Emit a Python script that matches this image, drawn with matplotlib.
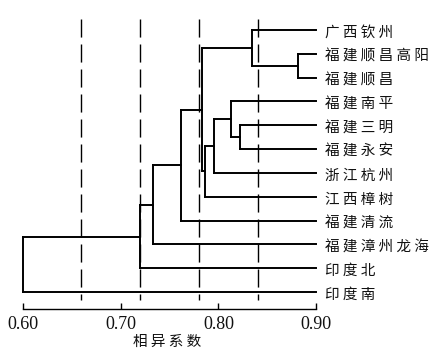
import matplotlib
matplotlib.use("Agg")
import matplotlib.pyplot as plt

# ---- data ----
leaf_labels = ["广西钦州", "福建顺昌高阳", "福建顺昌", "福建南平", "福建三明", "福建永安",
               "浙江杭州", "江西樟树", "福建清流", "福建漳州龙海", "印度北", "印度南"]
# merges: (child_a, child_b, height); new cluster ids start at len(leaf_labels)
merge_a = [1, 0, 4, 3, 15, 16, 13, 18, 19, 20, 21]
merge_b = [2, 12, 5, 14, 6, 7, 17, 8, 9, 10, 11]
merge_h = [0.881, 0.834, 0.822, 0.813, 0.795, 0.786, 0.783, 0.7615, 0.733, 0.720, 0.600]
ref_lines = [0.66, 0.72, 0.78, 0.84]
xticks = [0.60, 0.70, 0.80, 0.90]
xtick_labels = ["0.60", "0.70", "0.80", "0.90"]
xlabel = "相异系数"
leaf_level = 0.90

W, H = 438, 352
fig = plt.figure(figsize=(W / 100, H / 100), dpi=100)
fig.patch.set_facecolor("white")
ax = fig.add_axes([22.7 / W, 1 - 309 / H, 293.6 / W, (309 - 19) / H])

n = len(leaf_labels)
ypos = {i: float(i) for i in range(n)}
xpos = {i: leaf_level for i in range(n)}
lw = 1.4
for k, (a, b, h) in enumerate(zip(merge_a, merge_b, merge_h)):
    cid = n + k
    ax.plot([h, h], [ypos[a], ypos[b]], color="black", lw=lw, clip_on=False,
            solid_capstyle="projecting", zorder=3)
    ax.plot([h, xpos[a]], [ypos[a], ypos[a]], color="black", lw=lw, clip_on=False, zorder=3)
    ax.plot([h, xpos[b]], [ypos[b], ypos[b]], color="black", lw=lw, clip_on=False, zorder=3)
    ypos[cid] = (ypos[a] + ypos[b]) / 2
    xpos[cid] = h

for xv in ref_lines:
    ax.plot([xv, xv], [-0.46, 11.35], color="black", lw=1.0,
            linestyle=(0, (13, 5)), zorder=2)

cjk = ["Noto Sans CJK SC", "DejaVu Sans"]
for i, lab in enumerate(leaf_labels):
    ax.text(0.9088, ypos[i] + 0.12, " ".join(lab), fontsize=10.5, family=cjk,
            va="center", ha="left", color="#111111")

ax.set_xlim(0.60, 0.90)
ax.set_ylim(11.71, -0.46)
ax.set_xticks(xticks)
ax.set_xticklabels(xtick_labels, family="Liberation Serif", fontsize=13, color="#111111")
ax.tick_params(axis="x", direction="in", length=4, width=1.0, pad=5)
ax.set_yticks([])
for s in ["left", "top", "right"]:
    ax.spines[s].set_visible(False)
ax.spines["bottom"].set_linewidth(1.0)

ax.text((167 - 22.7) / 293.6, (309 - 342) / 290, " ".join(xlabel), transform=ax.transAxes,
        fontsize=10.5, family=cjk, ha="center", va="center", color="#111111")

fig.savefig("out.png", dpi=100, facecolor="white")
